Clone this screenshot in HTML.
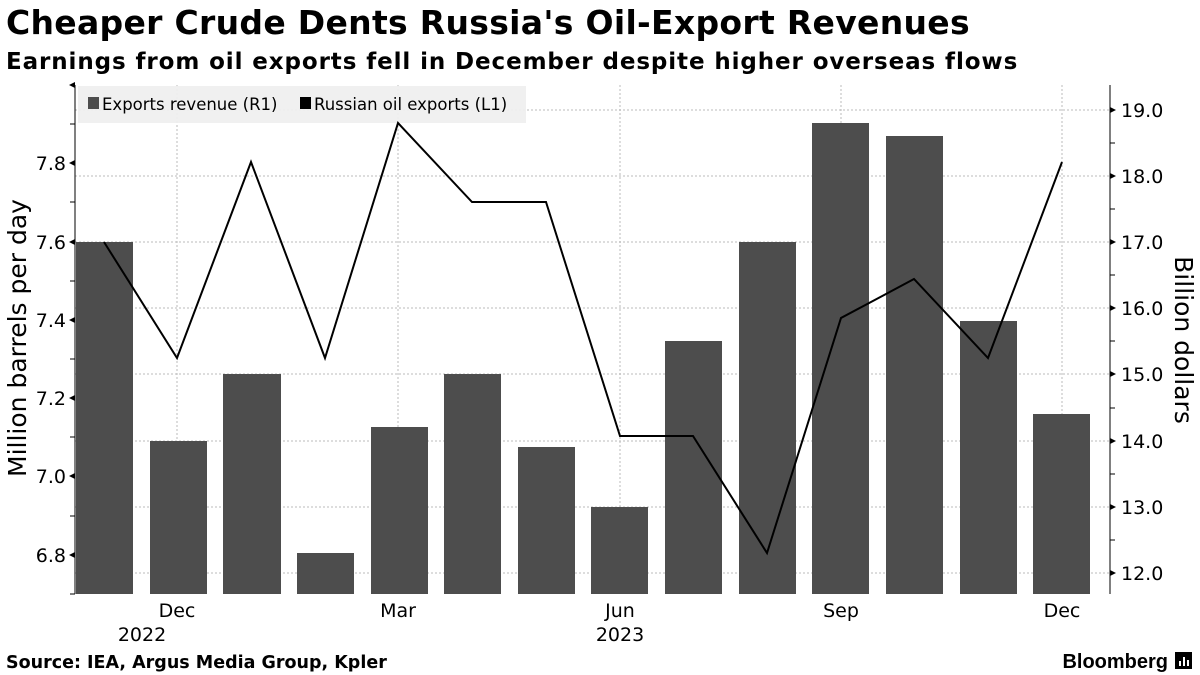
<!DOCTYPE html>
<html><head><meta charset="utf-8"><style>
body{margin:0;background:#fff;}
svg{display:block;font-family:"DejaVu Sans","Liberation Sans",sans-serif;}
</style></head><body>
<svg width="1200" height="675" viewBox="0 0 1200 675" xmlns="http://www.w3.org/2000/svg">
<text x="6" y="34" font-size="33" font-weight="bold" letter-spacing="0.3" fill="#000">Cheaper Crude Dents Russia's Oil-Export Revenues</text>
<text x="6" y="69" font-size="23" font-weight="bold" letter-spacing="0.9" fill="#000">Earnings from oil exports fell in December despite higher overseas flows</text>
<g stroke="#bbb" stroke-width="1" stroke-dasharray="2,2">
<line x1="75" x2="1110" y1="110" y2="110"/><line x1="75" x2="1110" y1="176" y2="176"/>
<line x1="75" x2="1110" y1="242" y2="242"/><line x1="75" x2="1110" y1="308" y2="308"/>
<line x1="75" x2="1110" y1="374" y2="374"/><line x1="75" x2="1110" y1="441" y2="441"/>
<line x1="75" x2="1110" y1="507" y2="507"/><line x1="75" x2="1110" y1="573" y2="573"/>
<line x1="177" x2="177" y1="85" y2="594"/><line x1="398" x2="398" y1="85" y2="594"/>
<line x1="620" x2="620" y1="85" y2="594"/><line x1="841" x2="841" y1="85" y2="594"/>
<line x1="1062" x2="1062" y1="85" y2="594"/>
</g>
<g fill="#4d4d4d">
<rect x="76" y="242" width="57" height="352"/>
<rect x="150" y="441" width="57" height="153"/>
<rect x="223" y="374" width="58" height="220"/>
<rect x="297" y="553" width="57" height="41"/>
<rect x="371" y="427" width="57" height="167"/>
<rect x="444" y="374" width="57" height="220"/>
<rect x="518" y="447" width="57" height="147"/>
<rect x="591" y="507" width="57" height="87"/>
<rect x="665" y="341" width="57" height="253"/>
<rect x="739" y="242" width="57" height="352"/>
<rect x="812" y="123" width="57" height="471"/>
<rect x="886" y="136" width="57" height="458"/>
<rect x="960" y="321" width="57" height="273"/>
<rect x="1033" y="414" width="57" height="180"/>
</g>
<rect x="78" y="86" width="448" height="37" fill="#efefef" opacity="0.95"/>
<rect x="88" y="97" width="11" height="12" fill="#4d4d4d"/>
<text x="102" y="110" font-size="16.5" fill="#000">Exports revenue (R1)</text>
<rect x="300" y="97" width="11" height="12" fill="#000"/>
<text x="314" y="110" font-size="16.5" fill="#000">Russian oil exports (L1)</text>
<polyline fill="none" stroke="#000" stroke-width="2" points="104,242 177,358 251,162 325,358 398,123 472,202 546,202 620,436 693,436 767,553 841,318 914,279 988,358 1062,162"/>
<g stroke="#000" stroke-width="1">
<line x1="75" x2="75" y1="85" y2="594"/><line x1="1110" x2="1110" y1="85" y2="594"/>
<line x1="70" x2="75" y1="124" y2="124"/><line x1="70" x2="75" y1="202" y2="202"/>
<line x1="70" x2="75" y1="281" y2="281"/><line x1="70" x2="75" y1="359" y2="359"/>
<line x1="70" x2="75" y1="437" y2="437"/><line x1="70" x2="75" y1="516" y2="516"/>
<line x1="70" x2="75" y1="594" y2="594"/>
<line x1="1110" x2="1115" y1="143" y2="143"/><line x1="1110" x2="1115" y1="209" y2="209"/>
<line x1="1110" x2="1115" y1="275" y2="275"/><line x1="1110" x2="1115" y1="341" y2="341"/>
<line x1="1110" x2="1115" y1="408" y2="408"/><line x1="1110" x2="1115" y1="474" y2="474"/>
<line x1="1110" x2="1115" y1="540" y2="540"/>
</g>
<g fill="#000">
<polygon points="69,85 75,82 75,88"/><polygon points="69,163 75,160 75,166"/><polygon points="69,242 75,239 75,245"/><polygon points="69,320 75,317 75,323"/><polygon points="69,398 75,395 75,401"/><polygon points="69,476 75,473 75,479"/><polygon points="69,555 75,552 75,558"/>
<polygon points="1116,110 1110,107 1110,113"/><polygon points="1116,176 1110,173 1110,179"/><polygon points="1116,242 1110,239 1110,245"/><polygon points="1116,308 1110,305 1110,311"/><polygon points="1116,374 1110,371 1110,377"/><polygon points="1116,441 1110,438 1110,444"/><polygon points="1116,507 1110,504 1110,510"/><polygon points="1116,573 1110,570 1110,576"/>
</g>
<g font-size="19" fill="#000" text-anchor="end">
<text x="66" y="170">7.8</text><text x="66" y="249">7.6</text><text x="66" y="327">7.4</text><text x="66" y="405">7.2</text><text x="66" y="483">7.0</text><text x="66" y="562">6.8</text>
</g>
<g font-size="19" fill="#000">
<text x="1121" y="117">19.0</text><text x="1121" y="183">18.0</text><text x="1121" y="249">17.0</text><text x="1121" y="315">16.0</text><text x="1121" y="381">15.0</text><text x="1121" y="448">14.0</text><text x="1121" y="514">13.0</text><text x="1121" y="580">12.0</text>
</g>
<g font-size="19" fill="#000" text-anchor="middle">
<text x="177" y="617">Dec</text><text x="142" y="641">2022</text>
<text x="398" y="617">Mar</text>
<text x="620" y="617">Jun</text><text x="620" y="641">2023</text>
<text x="841" y="617">Sep</text><text x="1062" y="617">Dec</text>
</g>
<text transform="translate(26,338) rotate(-90)" font-size="25" text-anchor="middle" fill="#000">Million barrels per day</text>
<text transform="translate(1175,340) rotate(90)" font-size="25" text-anchor="middle" fill="#000">Billion dollars</text>
<text x="6" y="668" font-size="17.5" font-weight="bold" fill="#000">Source: IEA, Argus Media Group, Kpler</text>
<text x="1168" y="668" font-size="20" font-weight="bold" text-anchor="end" fill="#000" font-family="Liberation Sans, sans-serif">Bloomberg</text>
<rect x="1175" y="652" width="17" height="17" fill="#000"/>
<rect x="1179" y="661" width="2" height="5" fill="#fff"/><rect x="1183" y="657" width="2" height="9" fill="#fff"/><rect x="1187" y="660" width="2" height="6" fill="#fff"/>
</svg>
</body></html>
